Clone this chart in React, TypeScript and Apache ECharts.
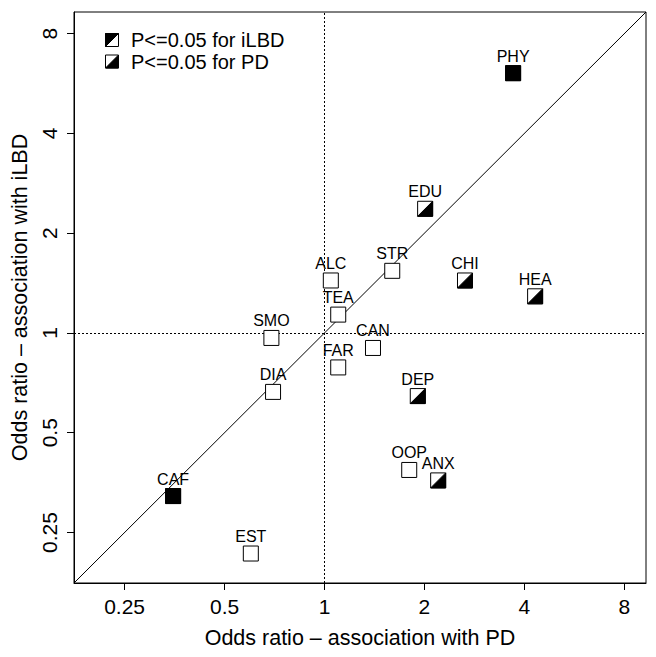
import React, { useEffect, useRef } from "react";
import * as echarts from "echarts";

// Factors and their odds ratios (PD on x, iLBD on y)
const names = ["PHY", "EDU", "STR", "ALC", "CHI", "HEA", "TEA", "SMO", "CAN", "FAR", "DIA", "DEP", "OOP", "ANX", "CAF", "EST"];
const orPD = [3.7, 2.01, 1.6, 1.045, 2.65, 4.31, 1.1, 0.692, 1.4, 1.1, 0.7, 1.91, 1.8, 2.2, 0.35, 0.6];
const orILBD = [6.08, 2.37, 1.54, 1.44, 1.44, 1.29, 1.136, 0.966, 0.901, 0.787, 0.664, 0.645, 0.386, 0.359, 0.322, 0.216];
// significance: "both", "pd", "ilbd", "none"
const signif = ["both", "pd", "none", "none", "pd", "pd", "none", "none", "none", "none", "none", "pd", "none", "pd", "both", "none"];

const tickValues = [0.25, 0.5, 1, 2, 4, 8];
const axisRange = [0.176, 9.3];
const legendLabels = ["P<=0.05 for iLBD", "P<=0.05 for PD"];

const FONT = "Liberation Sans, Arial, Helvetica, sans-serif";
const log2 = (v: number) => Math.log2(v);

function squareChildren(cx: number, cy: number, h: number, kind: string) {
  const children: any[] = [
    {
      type: "rect",
      shape: { x: cx - h, y: cy - h, width: 2 * h, height: 2 * h },
      style: { fill: "#fff", stroke: "#000", lineWidth: 1 },
    },
  ];
  if (kind === "both") {
    children.push({
      type: "rect",
      shape: { x: cx - h, y: cy - h, width: 2 * h, height: 2 * h },
      style: { fill: "#000", stroke: "#000", lineWidth: 1 },
    });
  } else if (kind === "pd") {
    children.push({
      type: "polygon",
      shape: { points: [[cx + h, cy - h], [cx + h, cy + h], [cx - h, cy + h]] },
      style: { fill: "#000", stroke: "#000", lineWidth: 1 },
    });
  } else if (kind === "ilbd") {
    children.push({
      type: "polygon",
      shape: { points: [[cx - h, cy - h], [cx + h, cy - h], [cx - h, cy + h]] },
      style: { fill: "#000", stroke: "#000", lineWidth: 1 },
    });
  }
  return children;
}

export default function App() {
  const ref = useRef<HTMLDivElement>(null);
  useEffect(() => {
    if (!ref.current) return;
    const chart = echarts.init(ref.current, null, { renderer: "svg" });
    const lmin = log2(axisRange[0]);
    const lmax = log2(axisRange[1]);
    const tickLog = tickValues.map(log2);
    const fmt = (v: number) => {
      const r = Math.pow(2, v);
      return String(Math.round(r * 100) / 100);
    };
    const data = names.map((n, i) => [log2(orPD[i]), log2(orILBD[i]), signif[i], n]);

    const axisCommon = (isY: boolean) => ({
      type: "value",
      min: lmin,
      max: lmax,
      axisLine: { show: true, onZero: false, lineStyle: { color: "#000", width: 1 } },
      splitLine: { show: false },
      axisTick: {
        show: true,
        customValues: tickLog,
        length: 7,
        inside: false,
        lineStyle: { color: "#000", width: 1 },
      },
      axisLabel: {
        customValues: tickLog,
        formatter: fmt,
        fontSize: 21,
        color: "#000",
        fontFamily: FONT,
        margin: isY ? 14 : 13,
        rotate: isY ? 90 : 0,
      },
      nameLocation: "middle",
      nameTextStyle: { fontSize: 21.5, color: "#000", fontFamily: FONT },
    });

    const legendGraphics: any[] = [];
    const legendKinds = ["ilbd", "pd"];
    legendLabels.forEach((lab, i) => {
      const cy = 40 + i * 21.5;
      legendGraphics.push({
        type: "group",
        children: squareChildren(112, cy, 6.5, legendKinds[i]),
      });
      legendGraphics.push({
        type: "text",
        x: 131,
        y: cy,
        style: {
          text: lab,
          fontSize: 20,
          fontFamily: FONT,
          fill: "#000",
          verticalAlign: "middle",
        },
      });
    });

    chart.setOption({
      animation: false,
      textStyle: { fontFamily: FONT },
      grid: {
        left: 74,
        right: 10,
        top: 12,
        bottom: 74,
        show: true,
        borderColor: "#000",
        borderWidth: 1,
        containLabel: false,
      },
      xAxis: { ...axisCommon(false), name: "Odds ratio \u2013 association with PD", nameGap: 44 },
      yAxis: { ...axisCommon(true), name: "Odds ratio \u2013 association with iLBD", nameGap: 42 },
      graphic: legendGraphics,
      series: [
        {
          type: "line",
          data: [
            [lmin, lmin],
            [lmax, lmax],
          ],
          symbol: "none",
          silent: true,
          lineStyle: { color: "#000", width: 1 },
          z: 1,
          markLine: {
            silent: true,
            symbol: "none",
            label: { show: false },
            lineStyle: { color: "#000", width: 1, type: [2, 2] },
            data: [{ xAxis: 0 }, { yAxis: 0 }],
          },
        },
        {
          type: "custom",
          z: 5,
          data,
          renderItem: (params: any, api: any) => {
            const p = api.coord([api.value(0), api.value(1)]);
            const kind = data[params.dataIndex][2] as string;
            const name = data[params.dataIndex][3] as string;
            const children = squareChildren(p[0], p[1], 7.5, kind);
            children.push({
              type: "text",
              x: p[0],
              y: p[1] - 17,
              style: {
                text: name,
                fontSize: 16,
                fontFamily: FONT,
                fill: "#000",
                align: "center",
                verticalAlign: "middle",
              },
            });
            return { type: "group", children };
          },
        },
      ],
    });
    return () => chart.dispose();
  }, []);
  return (
    <div
      ref={ref}
      style={{ position: "absolute", left: 0, top: 0, width: 656, height: 657, background: "#fff" }}
    />
  );
}
